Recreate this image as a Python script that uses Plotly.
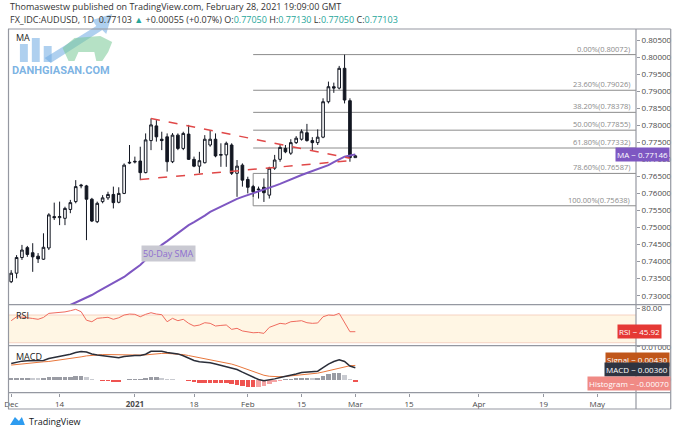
import pandas as pd
import plotly.graph_objects as go
from plotly.subplots import make_subplots

# daily bars, AUDUSD (FX_IDC), Dec 1 2020 -> Mar 1 2021 (weekdays)
dates = pd.bdate_range("2020-12-01", "2021-03-01")
calendar = pd.bdate_range("2020-12-01", "2021-05-31")

opens = [0.7341, 0.7366, 0.7412, 0.7441, 0.7426, 0.7416, 0.7407, 0.7440, 0.7532, 0.7529,
         0.7527, 0.7553, 0.7576, 0.7622, 0.7622, 0.7583, 0.7517, 0.7576, 0.7587, 0.7597,
         0.7574, 0.7600, 0.7689, 0.7692, 0.7695, 0.7661, 0.7755, 0.7798, 0.7759, 0.7766,
         0.7693, 0.7771, 0.7732, 0.7774, 0.7700, 0.7680, 0.7690, 0.7742, 0.7759, 0.7712,
         0.7713, 0.7742, 0.7659, 0.7683, 0.7641, 0.7620, 0.7613, 0.7618, 0.7595, 0.7674,
         0.7700, 0.7732, 0.7718, 0.7749, 0.7759, 0.7778, 0.7755, 0.7749, 0.7765, 0.7869,
         0.7913, 0.7909, 0.7967, 0.7872, 0.77050]
highs = [0.7375, 0.7419, 0.7449, 0.7446, 0.7454, 0.7425, 0.7483, 0.7542, 0.7573, 0.7576,
         0.7561, 0.7581, 0.7639, 0.7628, 0.7625, 0.7587, 0.7576, 0.7595, 0.7605, 0.7620,
         0.7618, 0.7688, 0.7742, 0.7708, 0.7737, 0.7776, 0.7820, 0.7815, 0.7781, 0.7776,
         0.7777, 0.7776, 0.7781, 0.7801, 0.7708, 0.7722, 0.7771, 0.7786, 0.7776, 0.7747,
         0.7752, 0.7747, 0.7698, 0.7688, 0.7649, 0.7625, 0.7620, 0.7644, 0.7678, 0.7713,
         0.7742, 0.7742, 0.7759, 0.7768, 0.7788, 0.7804, 0.7765, 0.7788, 0.7879, 0.7928,
         0.7925, 0.7974, 0.8007, 0.7879, 0.77130]
lows = [0.7337, 0.7351, 0.7405, 0.7414, 0.7370, 0.7396, 0.7405, 0.7434, 0.7522, 0.7507,
        0.7507, 0.7542, 0.7571, 0.7615, 0.7463, 0.7516, 0.7513, 0.7571, 0.7581, 0.7556,
        0.7571, 0.7598, 0.7686, 0.7688, 0.7639, 0.7659, 0.7727, 0.7752, 0.7727, 0.7664,
        0.7689, 0.7727, 0.7727, 0.7698, 0.7677, 0.7659, 0.7688, 0.7737, 0.7706, 0.7678,
        0.7678, 0.7654, 0.7590, 0.7620, 0.7600, 0.7590, 0.7585, 0.7575, 0.7585, 0.7669,
        0.7693, 0.7718, 0.7713, 0.7745, 0.7755, 0.7752, 0.7727, 0.7742, 0.7762, 0.7864,
        0.7895, 0.7905, 0.7864, 0.7693, 0.77050]
closes = [0.7366, 0.7412, 0.7434, 0.7421, 0.7414, 0.7408, 0.7442, 0.7537, 0.7529, 0.7532,
          0.7556, 0.7573, 0.7620, 0.7624, 0.7583, 0.7519, 0.7571, 0.7587, 0.7597, 0.7573,
          0.7600, 0.7683, 0.7691, 0.7694, 0.7661, 0.7757, 0.7801, 0.7766, 0.7755, 0.7693,
          0.7771, 0.7732, 0.7776, 0.7700, 0.7680, 0.7696, 0.7759, 0.7759, 0.7710, 0.7714,
          0.7747, 0.7659, 0.7680, 0.7639, 0.7618, 0.7605, 0.7611, 0.7602, 0.7674, 0.7698,
          0.7735, 0.7722, 0.7749, 0.7762, 0.7781, 0.7755, 0.7749, 0.7765, 0.7869, 0.7913,
          0.7909, 0.7967, 0.7874, 0.7705, 0.77103]
last_change = "+0.00055 (+0.07%)"

# 50-day SMA, visible from Dec 15
sma_start = 10
sma50 = [0.7261, 0.7273, 0.7280, 0.7287, 0.7295, 0.7302, 0.7311, 0.7320, 0.7328, 0.7337,
         0.7346, 0.7355, 0.7367, 0.7378, 0.7390, 0.7405, 0.7419, 0.7434, 0.7449, 0.7460,
         0.7472, 0.7484, 0.7496, 0.7507, 0.7516, 0.7525, 0.7535, 0.7546, 0.7554, 0.7562,
         0.7569, 0.7576, 0.7584, 0.7590, 0.7595, 0.7601, 0.7607, 0.7612, 0.7616, 0.7622,
         0.7628, 0.7635, 0.7642, 0.7648, 0.7654, 0.7660, 0.7666, 0.7672, 0.7678, 0.7683,
         0.7692, 0.7701, 0.7708, 0.7711, 0.77146]

rsi = [61.8, 67.5, 67.0, 66.5, 65.0, 63.8, 66.5, 72.4, 72.8, 73.3,
       74.5, 76.2, 78.2, 74.8, 62.5, 60.3, 65.2, 66.0, 66.7, 63.8,
       66.0, 70.0, 71.4, 71.0, 67.5, 71.0, 73.3, 71.4, 70.5, 60.3,
       65.2, 61.8, 63.8, 58.0, 54.1, 55.5, 58.9, 58.0, 54.1, 55.0,
       55.6, 49.3, 50.8, 47.0, 45.9, 44.4, 44.8, 43.5, 52.2, 55.0,
       58.0, 57.0, 60.3, 61.0, 61.8, 58.9, 58.0, 58.5, 67.5, 70.0,
       69.5, 72.4, 60.0, 45.9, 45.92]

macd = [0.00490, 0.00530, 0.00560, 0.00570, 0.00570, 0.00570, 0.00580, 0.00640, 0.00670, 0.00700,
        0.00725, 0.00770, 0.00820, 0.00850, 0.00840, 0.00780, 0.00745, 0.00725, 0.00700, 0.00680,
        0.00660, 0.00700, 0.00720, 0.00735, 0.00735, 0.00770, 0.00860, 0.00870, 0.00860, 0.00820,
        0.00810, 0.00780, 0.00725, 0.00660, 0.00580, 0.00540, 0.00530, 0.00510, 0.00470, 0.00430,
        0.00400, 0.00360, 0.00305, 0.00225, 0.00150, 0.00060, 0.00000, -0.00040, -0.00020, 0.00020,
        0.00060, 0.00090, 0.00120, 0.00170, 0.00215, 0.00225, 0.00225, 0.00255, 0.00360, 0.00470,
        0.00550, 0.00600, 0.00550, 0.00410, 0.00360]
signal = [0.00440, 0.00460, 0.00480, 0.00500, 0.00520, 0.00530, 0.00540, 0.00550, 0.00570, 0.00590,
          0.00610, 0.00640, 0.00670, 0.00690, 0.00720, 0.00740, 0.00750, 0.00760, 0.00760, 0.00755,
          0.00750, 0.00745, 0.00745, 0.00745, 0.00745, 0.00750, 0.00770, 0.00785, 0.00795, 0.00795,
          0.00790, 0.00780, 0.00760, 0.00730, 0.00700, 0.00670, 0.00640, 0.00610, 0.00580, 0.00550,
          0.00510, 0.00470, 0.00420, 0.00360, 0.00300, 0.00240, 0.00180, 0.00130, 0.00100, 0.00085,
          0.00085, 0.00095, 0.00110, 0.00125, 0.00145, 0.00160, 0.00175, 0.00195, 0.00230, 0.00270,
          0.00310, 0.00360, 0.00400, 0.00420, 0.00430]
histogram = [0.00050, 0.00050, 0.00050, 0.00055, 0.00050, 0.00040, 0.00040, 0.00080, 0.00090, 0.00090,
             0.00090, 0.00090, 0.00100, 0.00100, 0.00080, 0.00020, -0.00010, -0.00030, -0.00040, -0.00060,
             -0.00060, -0.00020, 0.00010, 0.00020, 0.00020, 0.00050, 0.00070, 0.00070, 0.00060, 0.00020,
             0.00010, 0.00000, -0.00020, -0.00050, -0.00090, -0.00100, -0.00100, -0.00100, -0.00110, -0.00120,
             -0.00120, -0.00140, -0.00170, -0.00200, -0.00230, -0.00240, -0.00230, -0.00200, -0.00150, -0.00080,
             -0.00030, 0.00020, 0.00030, 0.00050, 0.00060, 0.00060, 0.00050, 0.00060, 0.00120, 0.00160,
             0.00190, 0.00200, 0.00130, 0.00030, -0.00070]

# fibonacci retracement (low Feb 2 -> high Feb 25)
fib_start = "2021-02-02"
fib_pcts = [0.0, 23.6, 38.2, 50.0, 61.8, 78.6, 100.0]
fib_levels = [0.80072, 0.79026, 0.78378, 0.77855, 0.77332, 0.76587, 0.75638]

# hand-drawn pennant (dashed red)
pennant_upper = [("2021-01-06", 0.7820), ("2021-02-26", 0.7703)]
pennant_lower = [("2021-01-04", 0.7641), ("2021-02-26", 0.7696)]

tick_dates = ["2020-12-01", "2020-12-14", "2021-01-01", "2021-01-18", "2021-02-01", "2021-02-15",
              "2021-03-01", "2021-03-15", "2021-04-01", "2021-04-19", "2021-05-03"]
tick_text = ["Dec", "14", "<b>2021</b>", "18", "Feb", "15", "Mar", "15", "Apr", "19", "May"]

price_ticks = [round(0.730 + 0.005 * k, 3) for k in range(16)]

FONT = "Open Sans"
GRAY = "#9598a1"
TXT = "#4a4a4a"

xpos = list(calendar.get_indexer(dates))
def pos(d):
    return int(calendar.get_loc(pd.Timestamp(d)))

X_RANGE = [-0.41, 116.2]
W, H = 679, 431
ML, MR, MT, MB = 4, 43, 29, 38
PW, PH = W - ML - MR, H - MT - MB

def px(xp):
    return (xp - ML) / PW

def py(yp):
    return (H - MB - yp) / PH

fig = make_subplots(rows=3, cols=1, shared_xaxes=True, vertical_spacing=0)

fig.add_trace(go.Candlestick(
    x=xpos, open=opens, high=highs, low=lows, close=closes,
    increasing=dict(line=dict(color="#131722", width=1), fillcolor="#ffffff"),
    decreasing=dict(line=dict(color="#131722", width=1), fillcolor="#131722"),
    whiskerwidth=0, hoverinfo="skip", showlegend=False,
), row=1, col=1)

fig.add_trace(go.Scatter(
    x=xpos[sma_start:], y=sma50, mode="lines",
    line=dict(color="#7e57c2", width=2), hoverinfo="skip", showlegend=False,
), row=1, col=1)

for seg in (pennant_upper, pennant_lower):
    fig.add_trace(go.Scatter(
        x=[pos(d) for d, _ in seg], y=[v for _, v in seg], mode="lines",
        line=dict(color="#e04848", width=1.5, dash="dash"), hoverinfo="skip", showlegend=False,
    ), row=1, col=1)

# RSI
fig.add_trace(go.Scatter(
    x=xpos, y=rsi, mode="lines", line=dict(color="#ef6b5e", width=1),
    hoverinfo="skip", showlegend=False,
), row=2, col=1)

# MACD
hist_colors = []
for k, h in enumerate(histogram):
    prev = histogram[k - 1] if k else h
    if h >= 0:
        hist_colors.append("#9a9ca4" if h >= prev else "#c9cbd1")
    else:
        hist_colors.append("#ef5350" if h <= prev else "#f5a3a3")
fig.add_trace(go.Bar(
    x=xpos, y=histogram, marker=dict(color=hist_colors, line=dict(width=0)), width=0.85,
    hoverinfo="skip", showlegend=False,
), row=3, col=1)
fig.add_trace(go.Scatter(
    x=xpos, y=signal, mode="lines", line=dict(color="#e8773c", width=1),
    hoverinfo="skip", showlegend=False,
), row=3, col=1)
fig.add_trace(go.Scatter(
    x=xpos, y=macd, mode="lines", line=dict(color="#2a2e39", width=1.5),
    hoverinfo="skip", showlegend=False,
), row=3, col=1)

shapes = []
# RSI band
shapes.append(dict(type="rect", xref="x2", yref="y2", x0=X_RANGE[0], x1=X_RANGE[1], y0=30, y1=70,
                   fillcolor="rgba(255,238,205,0.55)", line=dict(width=0), layer="below"))
for lvl in (30, 70):
    shapes.append(dict(type="line", xref="x2", yref="y2", x0=X_RANGE[0], x1=X_RANGE[1], y0=lvl, y1=lvl,
                       line=dict(color="#f6d2c2", width=1), layer="below"))

# fib lines
x_fib = pos(fib_start)
for lvl in fib_levels:
    shapes.append(dict(type="line", xref="x", yref="y", x0=x_fib, x1=X_RANGE[1], y0=lvl, y1=lvl,
                       line=dict(color="#8c8c8c", width=1), layer="below"))
shapes.append(dict(type="line", xref="x", yref="y", x0=x_fib, x1=x_fib, y0=fib_levels[-1], y1=fib_levels[-2],
                   line=dict(color="#8c8c8c", width=1), layer="below"))

# panel frame
for yp in (MT, 304.7, 345.7, 392.7, 409):
    shapes.append(dict(type="line", xref="paper", yref="paper", x0=px(3), x1=px(671), y0=py(yp), y1=py(yp),
                       line=dict(color=GRAY, width=1.2)))
for xp in (3.5, 636, 671):
    shapes.append(dict(type="line", xref="paper", yref="paper", x0=px(xp), x1=px(xp), y0=py(MT), y1=py(409),
                       line=dict(color=GRAY, width=1.2)))

# watermark logo
wm_blue = "rgba(110,170,225,0.55)"
for x0, x1, y0, y1 in [(15, 23, 44, 62), (27, 35, 38, 62), (39, 47, 46, 62)]:
    shapes.append(dict(type="rect", xref="paper", yref="paper", x0=px(x0), x1=px(x1), y0=py(y1), y1=py(y0),
                       fillcolor=wm_blue, line=dict(width=0), layer="below"))
shapes.append(dict(type="path", xref="paper", yref="paper",
                   path=f"M {px(40)} {py(58)} L {px(92)} {py(26)} L {px(88)} {py(20)} L {px(108)} {py(14)} "
                        f"L {px(102)} {py(34)} L {px(98)} {py(30)} L {px(46)} {py(63)} Z",
                   fillcolor=wm_blue, line=dict(width=0), layer="below"))
shapes.append(dict(type="path", xref="paper", yref="paper",
                   path=f"M {px(58)} {py(48)} L {px(70)} {py(38)} L {px(96)} {py(36)} L {px(108)} {py(42)} "
                        f"L {px(104)} {py(52)} L {px(98)} {py(61)} L {px(92)} {py(61)} L {px(90)} {py(52)} "
                        f"L {px(74)} {py(52)} L {px(70)} {py(61)} L {px(64)} {py(61)} Z",
                   fillcolor="rgba(120,200,150,0.55)", line=dict(width=0), layer="below"))
# TradingView logo mark
shapes.append(dict(type="path", xref="paper", yref="paper",
                   path=f"M {px(5)} {py(425)} L {px(10)} {py(417)} L {px(14)} {py(421)} L {px(17)} {py(417)} "
                        f"L {px(20)} {py(425)} Z",
                   fillcolor="#2e9cf0", line=dict(width=0)))

ann = []
last = len(closes) - 1
ann.append(dict(xref="paper", yref="paper", x=px(3), y=py(7), xanchor="left", yanchor="middle",
                text="Thomaswestw published on TradingView.com, February 28, 2021 19:09:00 GMT",
                showarrow=False, font=dict(size=9, color="#333333")))
teal = "#26a69a"
hdr = (f"FX_IDC:AUDUSD, 1D  {closes[last]:.5f} <span style='color:{teal}'>▲</span> {last_change} "
       f"O:<span style='color:{teal}'>{opens[last]:.5f}</span> H:<span style='color:{teal}'>{highs[last]:.5f}</span> "
       f"L:<span style='color:{teal}'>{lows[last]:.5f}</span> C:<span style='color:{teal}'>{closes[last]:.5f}</span>")
ann.append(dict(xref="paper", yref="paper", x=px(3), y=py(19), xanchor="left", yanchor="middle",
                text=hdr, showarrow=False, font=dict(size=9, color="#333333")))
ann.append(dict(xref="paper", yref="paper", x=px(9), y=py(37), xanchor="left", yanchor="middle",
                text="MA", showarrow=False, font=dict(size=9, color="#222222")))
ann.append(dict(xref="paper", yref="paper", x=px(9), y=py(315), xanchor="left", yanchor="middle",
                text="RSI", showarrow=False, font=dict(size=9, color="#222222")))
ann.append(dict(xref="paper", yref="paper", x=px(9), y=py(356), xanchor="left", yanchor="middle",
                text="MACD", showarrow=False, font=dict(size=9, color="#222222")))
ann.append(dict(xref="paper", yref="paper", x=px(5), y=py(70), xanchor="left", yanchor="middle",
                text="<b>DANHGIASAN.COM</b>", showarrow=False,
                font=dict(size=11, color="rgba(90,160,220,0.8)", family="Liberation Sans Narrow, Roboto")))
ann.append(dict(xref="paper", yref="paper", x=px(137), y=py(253), xanchor="left", yanchor="middle",
                text="50-Day SMA", showarrow=False, bgcolor="#c9c9d2", borderpad=1,
                font=dict(size=9, color="#8f6fd0")))
ann.append(dict(xref="paper", yref="paper", x=px(22), y=py(421), xanchor="left", yanchor="middle",
                text="TradingView", showarrow=False, font=dict(size=9, color="#131722")))

for pct, lvl in zip(fib_pcts, fib_levels):
    ann.append(dict(xref="paper", yref="y", x=px(632), y=lvl, xanchor="right", yanchor="bottom",
                    text=f"{pct:.2f}%({lvl:.5f})", showarrow=False, yshift=-1,
                    font=dict(size=7.5, color="#8a8a8a")))

def tag(y, yref, text, color, x_right=670):
    return dict(xref="paper", yref=yref, x=px(x_right), y=y, xanchor="right", yanchor="middle",
                text=text, showarrow=False, bgcolor=color, borderpad=1,
                font=dict(size=8, color="#ffffff"))

ann.append(tag(sma50[-1], "y", f"MA − {sma50[-1]:.5f}", "#7e57c2"))
ann.append(tag(rsi[-1], "y2", f"RSI − {rsi[-1]:.2f}", "#e53935", 662))
ann.append(tag(py(359), "paper", f"Signal − {signal[-1]:.5f}", "#c0561a"))
ann.append(tag(py(369), "paper", f"MACD − {macd[-1]:.5f}", "#2f3441"))
ann.append(tag(py(383), "paper", f"Histogram − {histogram[-1]:.5f}", "#f08a85", 671))

axis_font = dict(size=8, color=TXT, family=FONT)
yax = dict(side="right", showgrid=False, zeroline=False, showline=False, ticks="outside", ticklen=3,
           tickcolor=GRAY, tickfont=axis_font, fixedrange=True)

fig.update_layout(
    width=W, height=H, margin=dict(l=ML, r=MR, t=MT, b=MB, pad=0),
    paper_bgcolor="#ffffff", plot_bgcolor="#ffffff",
    font=dict(family=FONT, color=TXT),
    showlegend=False, bargap=0,
    shapes=shapes, annotations=ann,
    yaxis=dict(yax, domain=[py(304.7), 1], range=[0.72736, 0.80823],
               tickvals=price_ticks, ticktext=[f"{v:.5f}" for v in price_ticks]),
    yaxis2=dict(yax, domain=[py(345.7), py(304.7)], range=[25.7, 84.9], tickvals=[80], ticktext=["80.00"]),
    yaxis3=dict(yax, domain=[0, py(345.7)], range=[-0.0041, 0.0103],
                tickvals=[0.01, 0.0], ticktext=["0.01000", "0.00000"]),
)
fig.update_xaxes(range=X_RANGE, showgrid=False, zeroline=False, showline=False,
                 rangeslider_visible=False, fixedrange=True)
fig.update_xaxes(tickvals=[pos(d) for d in tick_dates], ticktext=tick_text, ticks="outside", ticklen=3,
                 tickcolor=GRAY, tickfont=axis_font, ticklabeloverflow="allow", row=3, col=1)
fig.update_xaxes(showticklabels=False, row=1, col=1)
fig.update_xaxes(showticklabels=False, row=2, col=1)

fig.write_html("out.html", config={"displayModeBar": False, "staticPlot": True},
               post_script="document.body.style.margin='0';")
